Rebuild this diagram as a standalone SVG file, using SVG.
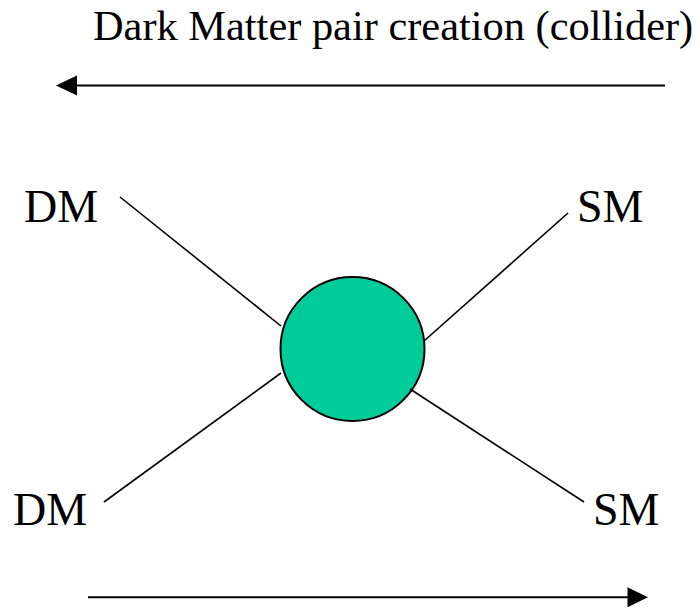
<svg xmlns="http://www.w3.org/2000/svg" width="700" height="608" viewBox="0 0 700 608">
<style>
text{font-family:"Liberation Serif","Times New Roman",serif;fill:#000}
.lbl{font-size:46px}
.ttl{font-size:42.4px}
.ln{stroke:#000;stroke-width:1.6;fill:none}
.ar{stroke:#000;stroke-width:2;fill:none}
.hd{fill:#000}
</style>
<rect width="700" height="608" fill="#fff"/>
<g id="title"><text class="ttl" x="93" y="40">Dark Matter pair creation (collider)</text></g>
<g id="connectors">
<line class="ar" x1="665" y1="85.5" x2="74" y2="85.5"/>
<polygon class="hd" points="56,85.5 77,75.5 77,95.5"/>
<line class="ar" x1="88" y1="597.3" x2="630" y2="597.3"/>
<polygon class="hd" points="648,597.3 627.5,587.3 627.5,607.3"/>
<line class="ln" x1="120" y1="197" x2="281" y2="326"/>
<line class="ln" x1="568" y1="213" x2="424" y2="341"/>
<line class="ln" x1="104" y1="502" x2="281" y2="373"/>
</g>
<g id="vertex"><circle cx="352.5" cy="349" r="72" fill="#00CC99" stroke="#000" stroke-width="2"/></g>
<g id="connectors-top"><line class="ln" x1="584" y1="502" x2="410" y2="389"/></g>
<g id="dm-top"><text class="lbl" x="24" y="222">DM</text></g>
<g id="sm-top"><text class="lbl" x="577" y="222">SM</text></g>
<g id="dm-bottom"><text class="lbl" x="13" y="525">DM</text></g>
<g id="sm-bottom"><text class="lbl" x="593" y="525">SM</text></g>
</svg>
